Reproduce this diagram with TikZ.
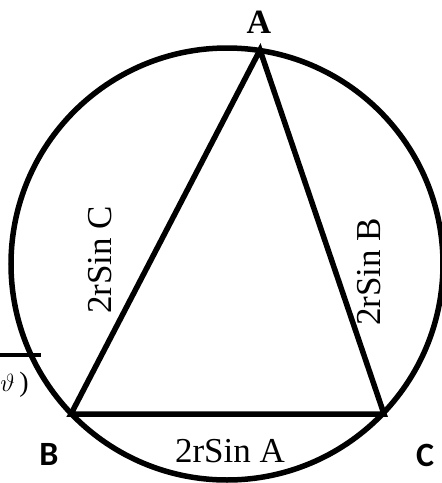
\documentclass[tikz,border=0pt]{standalone}
\usepackage{fontspec}
\setmainfont{Liberation Serif}
\newfontfamily\vertexfont{Carlito}
\usetikzlibrary{positioning}

\begin{document}
\begin{tikzpicture}[
  x=1pt, y=-1pt,
  edge/.style={line width=5.5pt, line join=miter},
  side/.style={font=\fontsize{35}{35}\selectfont, inner sep=0pt},
  vertex/.style={font=\fontsize{34}{34}\selectfont\vertexfont\bfseries, inner sep=0pt}
]
  \useasboundingbox (0,0) rectangle (442,483);

  % Circumcircle
  \coordinate (O) at (227,264);
  \draw[edge] (O) circle[radius=216];

  % Triangle
  \coordinate (A) at (260,50);
  \coordinate (B) at (71,414);
  \coordinate (C) at (384,414);
  \draw[edge] (A) -- (B) -- (C) -- cycle;

  % Vertex labels
  \node[inner sep=0pt, font=\fontsize{34}{34}\selectfont\bfseries] (lA) at (259,22) {A};
  \node[vertex] (lB) at (49,454) {B};
  \node[vertex] (lC) at (425,455) {C};

  % Side labels
  \node[side] (ab) at (230,451) {2rSin A};
  \node[side, rotate=90] (ac) at (100,260) {2rSin C};
  \node[side, rotate=90] (bc) at (369,272) {2rSin B};

  % Cut-off piece at the left
  \coordinate (f1) at (0,355);
  \coordinate (f2) at (41,355);
  \draw[line width=4.5pt] (f1) -- (f2);
  \node[anchor=east, inner sep=0pt, font=\fontsize{28}{28}\selectfont] (frag) at (29,385) {$\vartheta$\,)};
\end{tikzpicture}
\end{document}
